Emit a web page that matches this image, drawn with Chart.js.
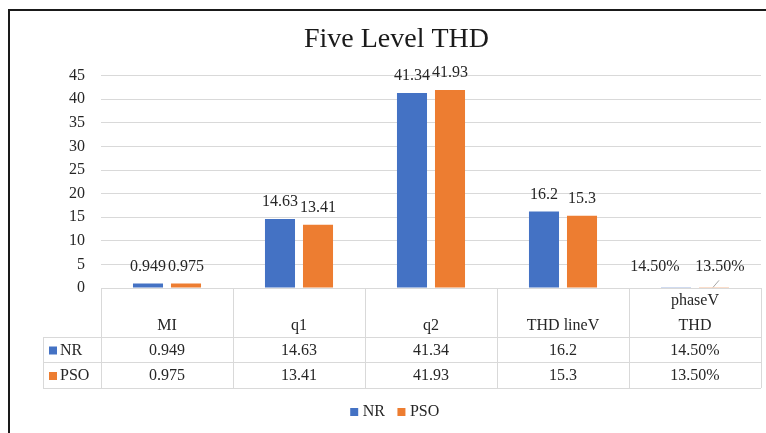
<!DOCTYPE html>
<html>
<head>
<meta charset="utf-8">
<script src="https://cdn.jsdelivr.net/npm/chart.js@4.4.1/dist/chart.umd.min.js"></script>
<style>
  html, body { margin: 0; padding: 0; background: #fff; overflow: hidden; }
  #wrap { width: 766px; height: 433px; position: relative; }
</style>
</head>
<body>
<div id="wrap"><canvas id="thd" width="766" height="433"></canvas></div>
<script>
// five level THD - NR vs PSO
var categories = ["MI", "q1", "q2", "THD lineV", "phaseV THD"];
var nrValues = [0.949, 14.63, 41.34, 16.2, 0.145];
var psoValues = [0.975, 13.41, 41.93, 15.3, 0.135];
var yTicks = [0, 5, 10, 15, 20, 25, 30, 35, 40, 45];

var serif = "'Liberation Serif', 'Times New Roman', serif";
var textCol = "#262626";
var lineCol = "#d9d9d9";

function fmt(v, i) {
  // last column is stored as a fraction in the sheet
  if (i === 4) return (v * 100).toFixed(2) + "%";
  return String(v);
}

// excel moved the two phaseV labels by hand
var labelShift = { 0: { 4: -21 }, 1: { 4: 6 } };

var frame = {
  id: "frame",
  afterDraw: function (chart) {
    var c = chart.ctx;
    c.save();
    c.strokeStyle = "#1a1a1a";
    c.lineWidth = 2;
    c.strokeRect(9, 10, 820, 500);
    c.restore();
  }
};

var valueLabels = {
  id: "valueLabels",
  afterDatasetsDraw: function (chart) {
    var c = chart.ctx;
    c.save();
    c.font = "16px " + serif;
    c.fillStyle = textCol;
    c.textAlign = "center";
    c.textBaseline = "middle";
    chart.data.datasets.forEach(function (ds, di) {
      chart.getDatasetMeta(di).data.forEach(function (bar, i) {
        var dx = (labelShift[di] && labelShift[di][i]) || 0;
        var y = bar.y - 17;
        if (dx) y = bar.y - 21;
        c.fillText(fmt(ds.data[i], i), bar.x + dx, y);
        if (dx > 0) {
          c.strokeStyle = "#a6a6a6";
          c.lineWidth = 1;
          c.beginPath();
          c.moveTo(bar.x - 1, bar.y);
          c.lineTo(bar.x + 5, bar.y - 7);
          c.stroke();
        }
      });
    });
    c.restore();
  }
};

var dataTable = {
  id: "dataTable",
  afterDraw: function (chart) {
    var c = chart.ctx;
    var a = chart.chartArea;
    var xs = chart.scales.x;
    var n = categories.length;
    var w = (a.right - a.left) / n;
    var top = a.bottom;
    var r1 = top + 49, r2 = r1 + 25, r3 = r2 + 26;
    var keyLeft = 43;
    c.save();
    c.strokeStyle = lineCol;
    c.lineWidth = 1;
    c.beginPath();
    c.moveTo(a.left, top + 0.5); c.lineTo(a.right, top + 0.5);
    [r1, r2, r3].forEach(function (y) {
      c.moveTo(keyLeft, y + 0.5); c.lineTo(a.right, y + 0.5);
    });
    c.moveTo(keyLeft + 0.5, r1); c.lineTo(keyLeft + 0.5, r3);
    for (var k = 0; k <= n; k++) {
      var x = Math.round(a.left + k * w) + 0.5;
      c.moveTo(x, top); c.lineTo(x, r3);
    }
    c.stroke();

    c.font = "16px " + serif;
    c.fillStyle = textCol;
    c.textAlign = "center";
    c.textBaseline = "middle";
    categories.forEach(function (cat, i) {
      var cx = xs.getPixelForValue(i);
      var parts = cat === "phaseV THD" ? ["phaseV", "THD"] : [cat];
      var base = r1 - 11;
      for (var p = parts.length - 1; p >= 0; p--) {
        c.fillText(parts[p], cx, base - (parts.length - 1 - p) * 25);
      }
      c.fillText(fmt(nrValues[i], i), cx, (r1 + r2) / 2 + 1);
      c.fillText(fmt(psoValues[i], i), cx, (r2 + r3) / 2 + 1);
    });

    // series keys in the table
    var rows = [[r1, r2], [r2, r3]];
    chart.data.datasets.forEach(function (ds, di) {
      var cy = (rows[di][0] + rows[di][1]) / 2;
      c.fillStyle = ds.backgroundColor;
      c.fillRect(keyLeft + 6, cy - 3, 8, 8);
      c.fillStyle = textCol;
      c.textAlign = "left";
      c.fillText(ds.label, keyLeft + 17, cy + 1);
    });
    c.restore();
  }
};

new Chart(document.getElementById("thd"), {
  type: "bar",
  data: {
    labels: categories,
    datasets: [
      { label: "NR", data: nrValues, backgroundColor: "#4472C4" },
      { label: "PSO", data: psoValues, backgroundColor: "#ED7D31" }
    ]
  },
  options: {
    responsive: false,
    animation: false,
    layout: { padding: { top: 10, left: 32, right: 5, bottom: 3 } },
    datasets: { bar: { categoryPercentage: 0.576, barPercentage: 0.79 } },
    plugins: {
      title: {
        display: true,
        text: "Five Level THD",
        color: "#1a1a1a",
        font: { family: serif, size: 28, weight: "normal" },
        padding: { top: 13, bottom: 19 }
      },
      legend: {
        position: "bottom",
        labels: {
          usePointStyle: true,
          pointStyle: "rect",
          boxWidth: 1,
          boxHeight: 8,
          padding: 16,
          color: textCol,
          font: { family: serif, size: 16 }
        }
      },
      tooltip: { enabled: false }
    },
    scales: {
      x: {
        grid: { display: false },
        border: { display: false },
        ticks: { display: false },
        afterFit: function (s) { s.height = 100; }
      },
      y: {
        min: 0,
        max: 45,
        afterBuildTicks: function (s) {
          s.ticks = yTicks.map(function (v) { return { value: v }; });
        },
        grid: { color: lineCol, drawTicks: false },
        border: { display: false },
        ticks: {
          padding: 16,
          color: textCol,
          font: { family: serif, size: 16 }
        },
        afterFit: function (s) { s.width = 69; }
      }
    }
  },
  plugins: [valueLabels, dataTable, frame]
});
</script>
</body>
</html>
